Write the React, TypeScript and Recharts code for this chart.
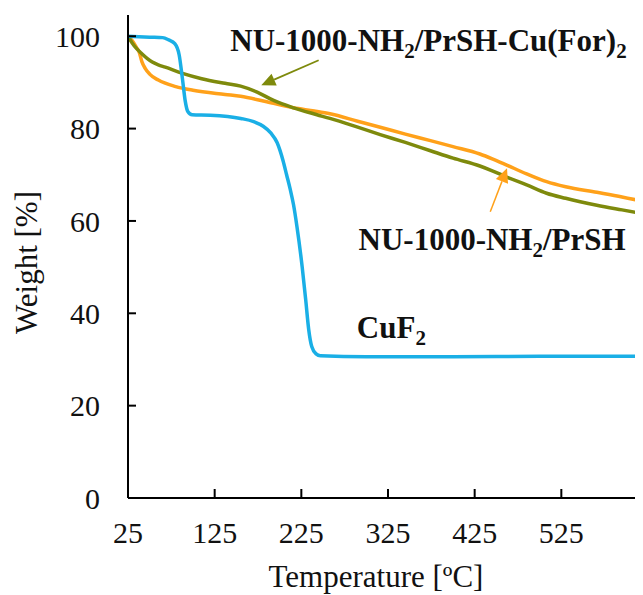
import React from 'react';
import { LineChart, Line, XAxis, YAxis, ReferenceDot, ReferenceLine } from 'recharts';

// ---- Data (temperature °C, weight %) ----
const cuf2Temp = [25, 50, 65, 72, 79, 84, 88, 91, 94, 99, 120, 155, 170, 181, 190, 197, 204, 208, 212, 216, 220, 226, 230, 233.5, 237, 242, 247, 300, 400, 500, 625];
const cuf2Weight = [100, 99.8, 99.7, 99.2, 98.4, 96, 90.5, 86, 83.7, 83.0, 82.9, 82.2, 81.5, 80.5, 79, 77, 73, 70, 67, 63.5, 58.7, 50, 43, 36.5, 32.8, 31.2, 30.8, 30.6, 30.6, 30.7, 30.7];

const prshTemp = [25, 30, 35, 38, 41, 45, 50, 60, 80, 100, 137, 155, 185, 216, 240, 258, 290, 316, 345, 374, 400, 431, 446, 462, 485, 508, 530, 566, 595, 625];
const prshWeight = [100, 99, 97.5, 96.5, 94.5, 93, 91.8, 90.5, 89.1, 88.3, 87.4, 87.0, 85.8, 84.5, 83.8, 83.2, 81.6, 80.3, 78.8, 77.4, 76.1, 74.5, 73.4, 72.1, 70.2, 68.5, 67.4, 66.2, 65.2, 64.0];

const cuForTemp = [25, 30, 35, 41, 47, 53, 60, 68, 87, 110, 137, 155, 174, 193, 216, 243, 258, 290, 316, 345, 374, 400, 431, 446, 462, 485, 508, 530, 566, 595, 625];
const cuForWeight = [100, 98.5, 97.3, 96.2, 95.2, 94.4, 93.8, 93.3, 92, 90.8, 89.8, 89.2, 87.9, 86.1, 84.5, 83.0, 82.2, 80.3, 78.7, 77.0, 75.2, 73.6, 71.9, 70.8, 69.5, 67.8, 66.0, 64.9, 63.4, 62.4, 61.4];

const xTicks = [25, 125, 225, 325, 425, 525];
const yTicks = [0, 20, 40, 60, 80, 100];

// annotation anchors (data coordinates)
const labelCuFor = { t: 143, w: 96.9 };
const labelPrsh = { t: 291, w: 53.7 };
const labelCuF2 = { t: 289, w: 34.6 };
const arrowCuFor = { from: { t: 245, w: 94.8 }, to: { t: 178.8, w: 89.4 } };
const arrowPrsh = { from: { t: 443, w: 62.0 }, to: { t: 462.3, w: 71.4 } };

// label text segments: [text, isSubscript]
const textCuFor: [string, boolean][] = [['NU-1000-NH', false], ['2', true], ['/PrSH-Cu(For)', false], ['2', true]];
const textPrsh: [string, boolean][] = [['NU-1000-NH', false], ['2', true], ['/PrSH', false]];
const textCuF2: [string, boolean][] = [['CuF', false], ['2', true]];

const zip = (t: number[], w: number[]) => t.map((x, i) => ({ t: x, w: w[i] }));
const cuf2Data = zip(cuf2Temp, cuf2Weight);
const prshData = zip(prshTemp, prshWeight);
const cuForData = zip(cuForTemp, cuForWeight);

const FONT = "'Liberation Serif', 'Times New Roman', serif";
const BLUE = '#1AAFE6';
const ORANGE = '#FFA11A';
const OLIVE = '#7E8A0C';
const TICK_MARGIN_Y = 28;
const TICK_MARGIN_X = 24;
const SUB_SHIFT = 7;

const YTick = (props: any) => {
  const { x, y, payload } = props;
  return (
    <g>
      <text x={x} y={y} dy="0.355em" textAnchor="end" fontFamily={FONT} fontSize={30} fill="#111">
        {payload.value}
      </text>
      <line x1={x + TICK_MARGIN_Y} x2={x + TICK_MARGIN_Y + 8} y1={y} y2={y} stroke="#000" strokeWidth={2} />
    </g>
  );
};

const XTick = (props: any) => {
  const { x, y, payload } = props;
  return (
    <g>
      <text x={x} y={y} dy="0.71em" textAnchor="middle" fontFamily={FONT} fontSize={30} fill="#111">
        {payload.value}
      </text>
      <line x1={x} x2={x} y1={y - TICK_MARGIN_X} y2={y - TICK_MARGIN_X - 9} stroke="#000" strokeWidth={2} />
    </g>
  );
};

const makeTextShape = (segments: [string, boolean][]) => (p: any) => {
  let shifted = false;
  const spans = segments.map(([s, sub], i) => {
    let dy = 0;
    if (sub && !shifted) {
      dy = SUB_SHIFT;
      shifted = true;
    } else if (!sub && shifted) {
      dy = -SUB_SHIFT;
      shifted = false;
    }
    return (
      <tspan key={i} dy={dy} fontSize={sub ? 21 : 31}>
        {s}
      </tspan>
    );
  });
  return (
    <text x={p.cx} y={p.cy} fontFamily={FONT} fontWeight="bold" fontSize={31} fill="#111" textAnchor="start">
      {spans}
    </text>
  );
};

const makeArrow = (color: string, width: number) => (p: any) => {
  const { x1, y1, x2, y2 } = p;
  const dx = x2 - x1;
  const dy = y2 - y1;
  const len = Math.sqrt(dx * dx + dy * dy);
  const ux = dx / len;
  const uy = dy / len;
  const hl = 14;
  const hw = 6.5;
  const bx = x2 - ux * hl;
  const by = y2 - uy * hl;
  const pts = `${x2},${y2} ${bx - uy * hw},${by + ux * hw} ${bx + uy * hw},${by - ux * hw}`;
  return (
    <g>
      <line x1={x1} y1={y1} x2={bx} y2={by} stroke={color} strokeWidth={width} />
      <polygon points={pts} fill={color} />
    </g>
  );
};

const YTitle = (props: any) => {
  const vb = props.viewBox || {};
  const cx = 17.5;
  const cy = (vb.y ?? 0) + (vb.height ?? 0) / 2 + 6;
  return (
    <text
      x={cx}
      y={cy}
      transform={`rotate(-90, ${cx}, ${cy})`}
      dy="0.355em"
      textAnchor="middle"
      fontFamily={FONT}
      fontSize={31}
      fill="#111"
    >
      Weight [%]
    </text>
  );
};

const XTitle = (props: any) => {
  const vb = props.viewBox || {};
  const cx = (vb.x ?? 0) + (vb.width ?? 0) / 2 - 12;
  const cy = (vb.y ?? 0) + (vb.height ?? 0) - 8;
  return (
    <text x={cx} y={cy} textAnchor="middle" fontFamily={FONT} fontSize={31} fill="#111">
      Temperature [ºC]
    </text>
  );
};

export default function App() {
  return (
    <div style={{ width: 635, height: 587, overflow: 'hidden' }}>
      <LineChart width={645} height={587} margin={{ top: 7, right: 5, left: 0, bottom: 0 }}>
        <XAxis
          type="number"
          dataKey="t"
          domain={[25, 625]}
          ticks={xTicks}
          interval={0}
          allowDataOverflow
          height={97}
          tickSize={0}
          tickLine={false}
          tickMargin={TICK_MARGIN_X}
          tick={<XTick />}
          axisLine={{ stroke: '#000', strokeWidth: 2 }}
          label={(p: any) => <XTitle {...p} />}
        />
        <YAxis
          type="number"
          dataKey="w"
          domain={[0, 104.6]}
          ticks={yTicks}
          interval={0}
          allowDataOverflow
          width={120}
          tickSize={0}
          tickLine={false}
          tickMargin={TICK_MARGIN_Y}
          tick={<YTick />}
          axisLine={{ stroke: '#000', strokeWidth: 2 }}
          label={(p: any) => <YTitle {...p} />}
        />
        <Line data={prshData} dataKey="w" type="monotone" stroke={ORANGE} strokeWidth={3.5} dot={false} isAnimationActive={false} />
        <Line data={cuForData} dataKey="w" type="monotone" stroke={OLIVE} strokeWidth={3.5} dot={false} isAnimationActive={false} />
        <Line data={cuf2Data} dataKey="w" type="monotone" stroke={BLUE} strokeWidth={3.5} dot={false} isAnimationActive={false} />
        <ReferenceLine
          segment={[{ x: arrowCuFor.from.t, y: arrowCuFor.from.w }, { x: arrowCuFor.to.t, y: arrowCuFor.to.w }]}
          shape={makeArrow(OLIVE, 1.8)}
          ifOverflow="visible"
        />
        <ReferenceLine
          segment={[{ x: arrowPrsh.from.t, y: arrowPrsh.from.w }, { x: arrowPrsh.to.t, y: arrowPrsh.to.w }]}
          shape={makeArrow(ORANGE, 1.5)}
          ifOverflow="visible"
        />
        <ReferenceDot x={labelCuFor.t} y={labelCuFor.w} r={0} ifOverflow="visible" shape={makeTextShape(textCuFor)} />
        <ReferenceDot x={labelPrsh.t} y={labelPrsh.w} r={0} ifOverflow="visible" shape={makeTextShape(textPrsh)} />
        <ReferenceDot x={labelCuF2.t} y={labelCuF2.w} r={0} ifOverflow="visible" shape={makeTextShape(textCuF2)} />
      </LineChart>
    </div>
  );
}
